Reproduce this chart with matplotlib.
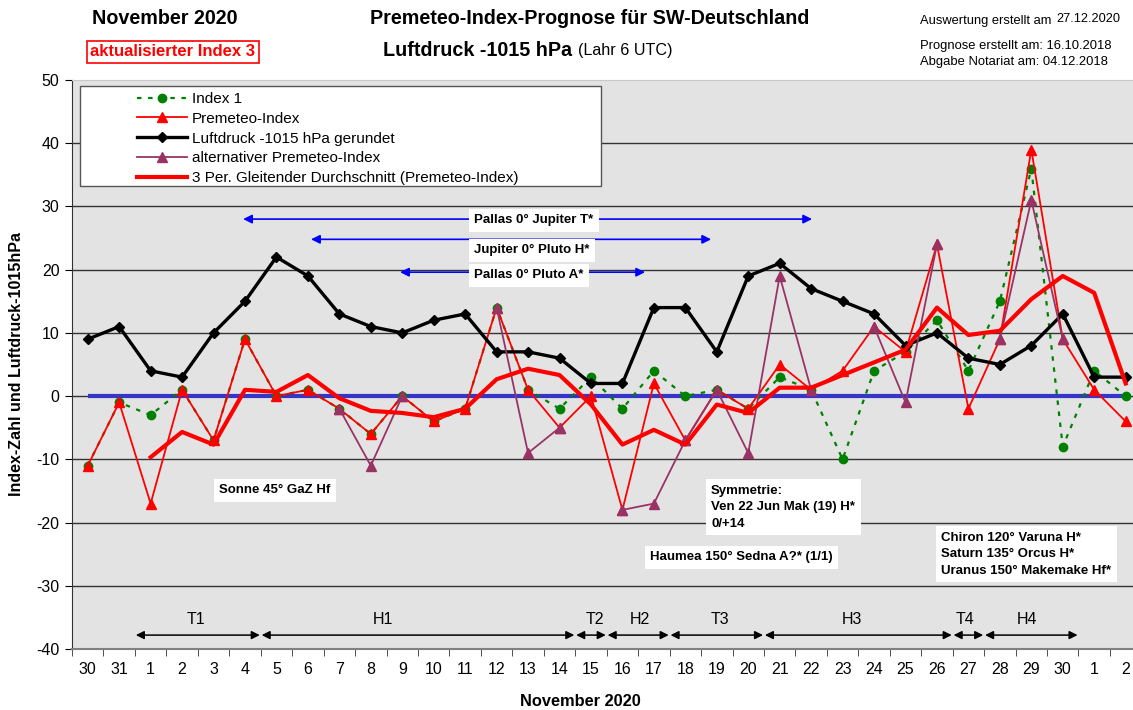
import numpy as np
import pandas as pd
import matplotlib
matplotlib.use("Agg")
import matplotlib.pyplot as plt
from matplotlib.patches import Rectangle

plt.rcParams['font.family'] = ['Liberation Sans', 'DejaVu Sans']
plt.rcParams['axes.unicode_minus'] = False

# ------------------------------------------------------------
# data (Oct 30 .. Dec 2)
# ------------------------------------------------------------
days = ['30', '31', '1', '2', '3', '4', '5', '6', '7', '8', '9', '10', '11', '12',
        '13', '14', '15', '16', '17', '18', '19', '20', '21', '22', '23', '24', '25',
        '26', '27', '28', '29', '30', '1', '2']

index1 = [-11, -1, -3, 1, -7, 9, 0, 1, -2, -6, 0, -4, -2, 14, 1, -2, 3, -2, 4, 0,
          1, -2, 3, 1, -10, 4, 7, 12, 4, 15, 36, -8, 4, 0]
premeteo = [-11, -1, -17, 1, -7, 9, 0, 1, -2, -6, 0, -4, -2, 14, 1, -5, 0, -18, 2, -7,
            1, -2, 5, 1, 4, 11, 7, 24, -2, 9, 39, 9, 1, -4]
luftdruck = [9, 11, 4, 3, 10, 15, 22, 19, 13, 11, 10, 12, 13, 7, 7, 6, 2, 2, 14, 14,
             7, 19, 21, 17, 15, 13, 8, 10, 6, 5, 8, 13, 3, 3]
nan = np.nan
alt_premeteo = [nan, nan, nan, nan, nan, nan, nan, nan, -2, -11, 0, nan, nan, 14, -9, -5,
                nan, -18, -17, -7, 1, -9, 19, 1, nan, 11, -1, 24, nan, 9, 31, 9, nan, nan]

series_labels = ['Index 1', 'Premeteo-Index', 'Luftdruck -1015 hPa gerundet',
                 'alternativer Premeteo-Index',
                 '3 Per. Gleitender Durchschnitt (Premeteo-Index)']

# aspect annotations: (text, x_start, x_end, arrow y, label y) in category units
aspects = [('Pallas 0° Jupiter T*', 4.94, 23.03, 28.0, 27.8),
           ('Jupiter 0° Pluto H*', 7.1, 19.82, 24.8, 23.1),
           ('Pallas 0° Pluto A*', 9.93, 17.72, 19.6, 19.1)]

# phases: (label, first boundary, last boundary, label x)
phases = [('T1', 1.5, 5.5, 3.44), ('H1', 5.5, 15.5, 9.39), ('T2', 15.5, 16.5, 16.13),
          ('H2', 16.5, 18.5, 17.57), ('T3', 18.5, 21.5, 20.11), ('H3', 21.5, 27.5, 24.31),
          ('T4', 27.5, 28.5, 27.9), ('H4', 28.5, 31.5, 29.87)]

notes = [('Sonne 45° GaZ Hf', 4.18, -14.9),
         ('Symmetrie:\nVen 22 Jun Mak (19) H*\n0/+14', 19.82, -17.6),
         ('Haumea 150° Sedna A?* (1/1)', 17.88, -25.5),
         ('Chiron 120° Varuna H*\nSaturn 135° Orcus H*\nUranus 150° Makemake Hf*', 27.14, -25.0)]

# ------------------------------------------------------------
W, H = 1133, 710
fig = plt.figure(figsize=(W / 100, H / 100), dpi=100)
ax = fig.add_axes([72 / W, 1 - 649 / H, 1069.4 / W, 569 / H])
ax.set_facecolor('#E3E3E3')

x = np.arange(len(days))
moving_avg = pd.Series(premeteo, dtype=float).rolling(3).mean()

for v in range(-30, 50, 10):
    ax.axhline(v, color='#333333', lw=1.0, zorder=1)
ax.hlines(0, x[0], x[-1], color='#3535C8', lw=3, zorder=2)

ax.plot(x, index1, color='#008000', ls=(0, (2, 3)), lw=1.6, marker='o', ms=6,
        zorder=3, label=series_labels[0])
ax.plot(x, premeteo, color='#FF0000', lw=1.3, marker='^', ms=7.5, zorder=4,
        label=series_labels[1])
ax.plot(x, luftdruck, color='black', lw=2.4, marker='D', ms=5, zorder=5,
        label=series_labels[2])
ax.plot(x, alt_premeteo, color='#993366', lw=1.3, marker='^', ms=7.5, zorder=6,
        label=series_labels[3])
ax.plot(x, moving_avg, color='#FF0000', lw=3.0, zorder=7, label=series_labels[4])

ax.set_xlim(-0.5, len(days) - 0.5)
ax.set_ylim(-40, 50)
ax.set_yticks(range(-40, 60, 10))
ax.set_xticks(x)
ax.set_xticklabels(days, fontsize=11.5)
ax.set_xticks(np.arange(-0.5, len(days), 1), minor=True)
ax.tick_params(axis='x', which='major', length=0, pad=9)
ax.tick_params(axis='x', which='minor', length=5, direction='out', color='#333333')
ax.tick_params(axis='y', length=5, direction='out', labelsize=11.5, pad=4)
ax.spines['top'].set_color('#C8C8C8')
ax.spines['right'].set_visible(False)
ax.spines['bottom'].set_color('#808080')
ax.spines['bottom'].set_linewidth(1.5)
ax.spines['left'].set_color('#333333')

# aspect arrows
for label, x0, x1, ya, yt in aspects:
    ax.annotate('', xy=(x0, ya), xytext=(x1, ya),
                arrowprops=dict(arrowstyle='<|-|>', color='#0000FF', lw=1.2,
                                mutation_scale=13, shrinkA=0, shrinkB=0), zorder=8)
    ax.text(12.29, yt, label, fontsize=9.5, fontweight='bold', va='center', ha='left',
            zorder=9, bbox=dict(facecolor='white', edgecolor='none', pad=4))

# phase arrows
for label, x0, x1, xl in phases:
    ax.annotate('', xy=(x0 + 0.03, -37.8), xytext=(x1 - 0.03, -37.8),
                arrowprops=dict(arrowstyle='<|-|>', color='black', lw=1.1,
                                mutation_scale=12, shrinkA=0, shrinkB=0), zorder=8)
    ax.text(xl, -35.4, label, fontsize=11.5, ha='center', va='center')

for label, xt, yt in notes:
    ax.text(xt, yt, label, fontsize=9.5, fontweight='bold', ha='left', va='center',
            linespacing=1.5, zorder=9,
            bbox=dict(facecolor='white', edgecolor='none', pad=4))

# legend with Excel-like box
ax.add_patch(Rectangle((8 / 1069.4, (649 - 186) / 569), 521 / 1069.4, 100 / 569,
                       transform=ax.transAxes, facecolor='white', edgecolor='#555555',
                       lw=1.0, zorder=10, clip_on=False))
leg = ax.legend(loc='upper left', bbox_to_anchor=(65 / 1069.4, (649 - 92) / 569),
                frameon=False, fontsize=11, handlelength=3.3, handletextpad=0.3,
                labelspacing=0.38, borderpad=0, borderaxespad=0)
leg.set_zorder(11)

# header and axis titles
fig.text(17 / W, 1 - 364 / H, 'Index-Zahl und Luftdruck-1015hPa', rotation=90,
         fontsize=11.5, fontweight='bold', ha='center', va='center')
fig.text(580 / W, 1 - 702 / H, 'November 2020', fontsize=11.8, fontweight='bold',
         ha='center', va='center')
fig.text(165 / W, 1 - 19 / H, 'November 2020', fontsize=14.2, fontweight='bold',
         ha='center', va='center')
fig.text(173 / W, 1 - 52 / H, 'aktualisierter Index 3', fontsize=12, fontweight='bold',
         color='#FF0000', ha='center', va='center',
         bbox=dict(facecolor='white', edgecolor='#FF0000', lw=1.2, pad=2.5))
fig.text(590 / W, 1 - 18 / H, 'Premeteo-Index-Prognose für SW-Deutschland', fontsize=14.2,
         fontweight='bold', ha='center', va='center')
fig.text(383 / W, 1 - 50 / H, 'Luftdruck -1015 hPa', fontsize=14.2, fontweight='bold',
         ha='left', va='center')
fig.text(578 / W, 1 - 51 / H, '(Lahr 6 UTC)', fontsize=11.6, ha='left', va='center')
fig.text(920 / W, 1 - 21 / H, 'Auswertung erstellt am', fontsize=9.3, ha='left', va='center')
fig.text(1056 / W, 1 - 19 / H, '27.12.2020', fontsize=9.2, ha='left', va='center')
fig.text(920 / W, 1 - 46 / H, 'Prognose erstellt am: 16.10.2018', fontsize=9.4,
         ha='left', va='center')
fig.text(920 / W, 1 - 62 / H, 'Abgabe Notariat am: 04.12.2018', fontsize=9.4,
         ha='left', va='center')

fig.savefig('out.png', dpi=100)
